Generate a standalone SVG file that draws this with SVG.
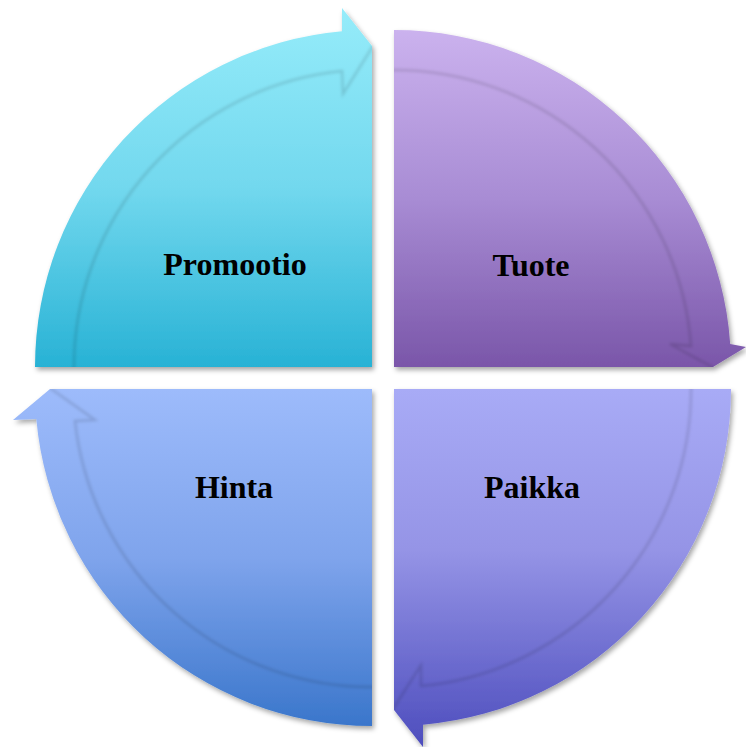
<svg xmlns="http://www.w3.org/2000/svg" width="746" height="747" viewBox="0 0 746 747">
<defs>
<linearGradient id="gTL" x1="0" y1="0" x2="0" y2="1">
<stop offset="0" stop-color="#96ECFA"/><stop offset="0.5" stop-color="#72D8EE"/><stop offset="1" stop-color="#28B2D5"/>
</linearGradient>
<linearGradient id="gTR" x1="0" y1="0" x2="0" y2="1">
<stop offset="0" stop-color="#CBB2EE"/><stop offset="0.5" stop-color="#A88CD4"/><stop offset="1" stop-color="#7A56A9"/>
</linearGradient>
<linearGradient id="gBR" x1="0" y1="0" x2="0" y2="1">
<stop offset="0" stop-color="#A8ABF6"/><stop offset="0.45" stop-color="#9594E6"/><stop offset="1" stop-color="#4D4DBD"/>
</linearGradient>
<linearGradient id="gBL" x1="0" y1="0" x2="0" y2="1">
<stop offset="0" stop-color="#9DBBFB"/><stop offset="0.5" stop-color="#7FA4EC"/><stop offset="1" stop-color="#3A76CB"/>
</linearGradient>
<filter id="shadow" x="-10%" y="-10%" width="120%" height="120%">
<feDropShadow dx="2" dy="3" stdDeviation="2.5" flood-color="#000" flood-opacity="0.35"/>
</filter>
<filter id="soft" x="-10%" y="-10%" width="120%" height="120%">
<feGaussianBlur stdDeviation="1.8"/>
</filter>
<path id="sTL" d="M35,367 A337,337 0 0 1 342,31.3 L342,8 L372,46 L372,367 Z"/>
<path id="sTR" d="M394,30 A337,337 0 0 1 730.2,344 L746,347 L713,367 L394,367 Z"/>
<path id="sBR" d="M394,389 L731,389 A337,337 0 0 1 423,724.7 L423,747 L394,710 Z"/>
<path id="sBL" d="M372,389 L372,726 A337,337 0 0 1 36.3,419 L13,420 L50,389 Z"/>
<clipPath id="cTL"><use href="#sTL"/></clipPath>
<clipPath id="cTR"><use href="#sTR"/></clipPath>
<clipPath id="cBR"><use href="#sBR"/></clipPath>
<clipPath id="cBL"><use href="#sBL"/></clipPath>
</defs>
<style>
.edge{fill:none;stroke:#000;stroke-opacity:0.13;stroke-width:2.5;filter:url(#soft)}
.lbl{font-family:"Liberation Serif","Times New Roman",serif;font-weight:bold;font-size:32px;fill:#000;text-anchor:middle}
</style>

<g id="promootio">
<use href="#sTL" filter="url(#shadow)" fill="url(#gTL)"/>
<g clip-path="url(#cTL)"><path class="edge" d="M74,372 A298,298 0 0 1 342,71 L343,94 L373,46"/></g>
<text class="lbl" x="235" y="275">Promootio</text>
</g>

<g id="tuote">
<use href="#sTR" filter="url(#shadow)" fill="url(#gTR)"/>
<g clip-path="url(#cTR)"><path class="edge" d="M389,70 A298,298 0 0 1 691,346 L670,344 L714,368"/></g>
<text class="lbl" x="531" y="276">Tuote</text>
</g>

<g id="paikka">
<use href="#sBR" filter="url(#shadow)" fill="url(#gBR)"/>
<g clip-path="url(#cBR)"><path class="edge" d="M691,384 A298,298 0 0 1 421,686 L421,665 L393,709"/></g>
<text class="lbl" x="532" y="498">Paikka</text>
</g>

<g id="hinta">
<use href="#sBL" filter="url(#shadow)" fill="url(#gBL)"/>
<g clip-path="url(#cBL)"><path class="edge" d="M377,687 A298,298 0 0 1 75,421 L95,420 L50,388"/></g>
<text class="lbl" x="234" y="498">Hinta</text>
</g>
</svg>
